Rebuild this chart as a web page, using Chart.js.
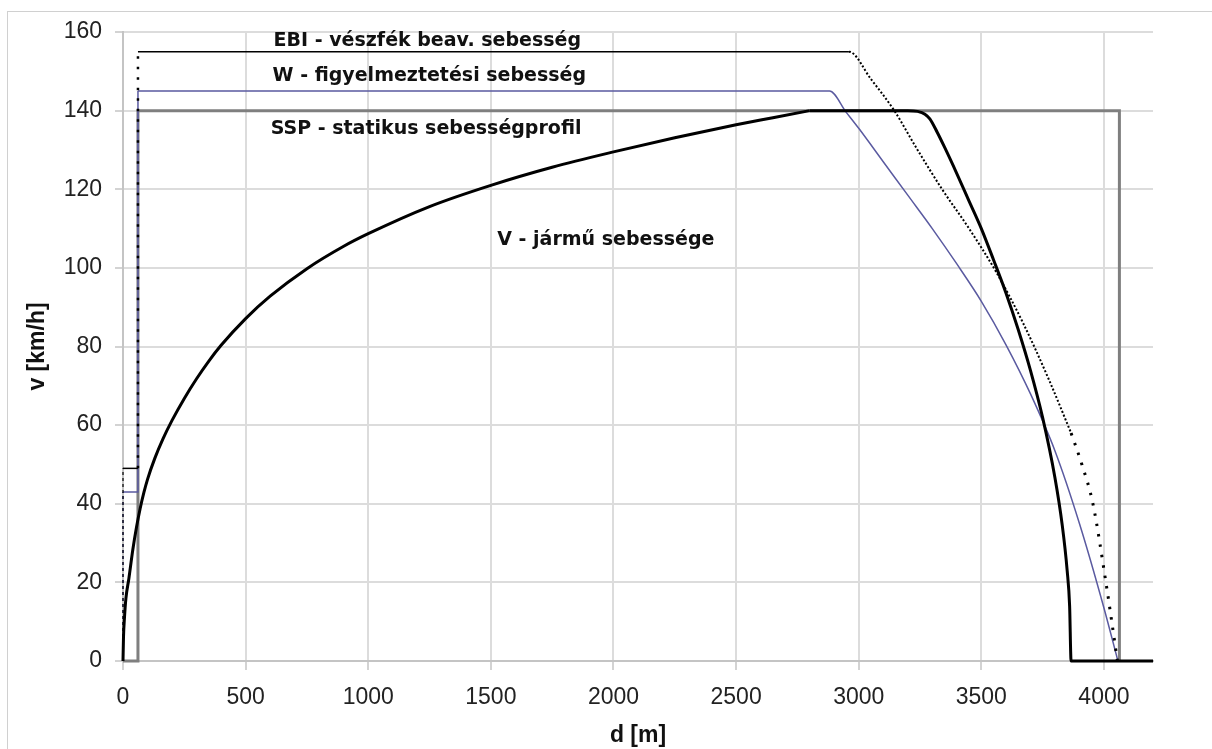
<!DOCTYPE html>
<html>
<head>
<meta charset="utf-8">
<script src="https://cdn.jsdelivr.net/npm/chart.js@4.4.1/dist/chart.umd.min.js"></script>
<style>
html,body{margin:0;padding:0;background:#fff;overflow:hidden;width:1212px;height:749px;}
#frame{position:absolute;left:7px;top:11px;width:1300px;height:800px;border-top:1.5px solid #d0d0d0;border-left:1.5px solid #d0d0d0;}
#c{position:absolute;left:0;top:0;}
</style>
</head>
<body>
<div id="frame"></div>
<canvas id="c" width="1212" height="749"></canvas>
<script>
// ---- tick labels ----
const xTicks = [0, 500, 1000, 1500, 2000, 2500, 3000, 3500, 4000];
const yTicks = [0, 20, 40, 60, 80, 100, 120, 140, 160];

// ---- SSP - statikus sebességprofil ----
const sspD = [0, 61, 61, 4063, 4063];
const sspV = [0, 0, 140, 140, 0];

// ---- W - figyelmeztetési sebesség ----
const wStepD = [0, 0, 61, 61];
const wStepV = [0, 43, 43, 145];
const wD = [61, 2881, 2950, 3000, 3100, 3200, 3300, 3400, 3500, 3600, 3700, 3800, 3900, 4000, 4057];
const wV = [145, 145, 139.5, 135.5, 127, 118.5, 110, 101, 91.5, 80.5, 68, 53.5, 35, 13.5, 0];

// ---- EBI - vészfék beavatkozási sebesség ----
const ebiStepD = [0, 0, 61, 61];
const ebiStepV = [0, 49, 49, 155];
const ebiD = [61, 2960, 3050, 3145, 3240, 3340, 3450, 3560, 3670, 3776, 3866];
const ebiV = [155, 155, 148, 140, 130, 120, 110, 99, 86, 71.5, 58];
const ebiTailD = [3866, 3910, 3955, 4008, 4055];
const ebiTailV = [58, 50, 40, 20, 0];

// ---- V - jármű sebessége (gyorsítás, majd fékezés) ----
const vRiseD = [0, 2, 6, 12, 24, 40, 55, 70, 85, 100, 130, 163, 200, 250, 300, 350, 400, 500, 600, 750, 900, 1000, 1250, 1500, 1750, 2000, 2250, 2500, 2650, 2800];
const vRiseV = [0, 6, 11, 16, 21, 28.3, 34, 38.8, 42.8, 46.2, 51.6, 56.5, 61.2, 66.8, 71.8, 76.3, 80.3, 87.1, 92.8, 99.8, 105.5, 108.7, 115.6, 121, 125.6, 129.5, 133.1, 136.4, 138.2, 140];
const vBrakeD = [2800, 3200, 3240, 3270, 3290, 3320, 3350, 3400, 3450, 3500, 3550, 3600, 3650, 3700, 3750, 3800, 3830, 3850, 3860, 3866, 4200];
const vBrakeV = [140, 140, 139.8, 139.1, 137.9, 134.5, 130.7, 124, 117, 110, 102, 93.7, 84.4, 74, 61.9, 46.7, 34.5, 23, 14, 0, 0];

// ---- annotation texts ----
const notes = [
  {text: 'EBI - vészfék beav. sebesség', d: 614, v: 157.6, w: 312},
  {text: 'W - figyelmeztetési sebesség', d: 610, v: 148.7, w: 315},
  {text: 'SSP - statikus sebességprofil', d: 602, v: 135.2, w: 313},
  {text: 'V - jármű sebessége', d: 1526, v: 107.2, w: 218}
];

const pts = (xs, ys) => xs.map((x, i) => ({x: x, y: ys[i]}));

const notesPlugin = {
  id: 'notes',
  afterDatasetsDraw(chart) {
    const {ctx, scales: {x, y}} = chart;
    ctx.save();
    ctx.font = 'bold 19px "DejaVu Sans", Verdana, sans-serif';
    ctx.fillStyle = '#111';
    ctx.textBaseline = 'middle';
    ctx.textAlign = 'left';
    notes.forEach(n => ctx.fillText(n.text, x.getPixelForValue(n.d), y.getPixelForValue(n.v), n.w));
    ctx.restore();
  }
};

Chart.defaults.font.family = '"Liberation Sans", Arial, sans-serif';
Chart.defaults.color = '#222';

const base = {showLine: true, pointRadius: 0, tension: 0, clip: 6};

new Chart(document.getElementById('c'), {
  type: 'scatter',
  data: {
    datasets: [
      Object.assign({}, base, {
        label: 'V', data: pts(vRiseD, vRiseV),
        borderColor: '#000', borderWidth: 3, cubicInterpolationMode: 'monotone'
      }),
      Object.assign({}, base, {
        label: 'V fékezés', data: pts(vBrakeD, vBrakeV),
        borderColor: '#000', borderWidth: 3, cubicInterpolationMode: 'monotone'
      }),
      Object.assign({}, base, {
        label: 'EBI step', data: pts(ebiStepD, ebiStepV),
        borderColor: '#000', borderWidth: 1.5,
        segment: {
          borderDash: c => (c.p0.parsed.x === c.p1.parsed.x) ? (c.p0.parsed.x === 0 ? [3, 3] : [2.5, 8]) : [],
          borderWidth: c => (c.p0.parsed.x === c.p1.parsed.x) ? (c.p0.parsed.x === 0 ? 1.2 : 2.5) : 1.5
        }
      }),
      Object.assign({}, base, {
        label: 'EBI', data: pts(ebiD, ebiV),
        borderColor: '#000', borderWidth: 1.5, cubicInterpolationMode: 'monotone',
        segment: {
          borderDash: c => (c.p0.parsed.y === c.p1.parsed.y) ? [] : [2, 2],
          borderWidth: c => (c.p0.parsed.y === c.p1.parsed.y) ? 1.5 : 2
        }
      }),
      Object.assign({}, base, {
        label: 'EBI tail', data: pts(ebiTailD, ebiTailV),
        borderColor: '#000', borderWidth: 3, borderDash: [2.5, 8], cubicInterpolationMode: 'monotone'
      }),
      Object.assign({}, base, {
        label: 'W step', data: pts(wStepD, wStepV),
        borderColor: '#5a5aa0', borderWidth: 1.5,
        segment: {
          borderDash: c => (c.p0.parsed.x === 0 && c.p1.parsed.x === 0) ? [3, 3] : []
        }
      }),
      Object.assign({}, base, {
        label: 'W', data: pts(wD, wV),
        borderColor: '#5a5aa0', borderWidth: 1.5, cubicInterpolationMode: 'monotone'
      }),
      Object.assign({}, base, {
        label: 'SSP', data: pts(sspD, sspV),
        borderColor: '#7f7f7f', borderWidth: 3
      })
    ]
  },
  options: {
    responsive: false,
    animation: false,
    devicePixelRatio: 1,
    layout: {padding: {left: 0, top: 32, right: 59, bottom: 0}},
    plugins: {legend: {display: false}, tooltip: {enabled: false}},
    scales: {
      x: {
        type: 'linear', min: 0, max: 4200,
        afterBuildTicks: s => { s.ticks = xTicks.map(v => ({value: v})); },
        afterFit: s => { s.height = 88; },
        ticks: {font: {size: 23}, padding: 14, color: '#222', callback: v => String(v)},
        grid: {color: '#dcdcdc', lineWidth: 2, tickLength: 9, tickColor: '#c4c4c4', tickWidth: 1.5},
        border: {color: '#c4c4c4', width: 2},
        title: {display: true, text: 'd [m]', font: {size: 23, weight: 'bold'}, color: '#111', padding: {top: 0, bottom: 0}}
      },
      y: {
        type: 'linear', min: 0, max: 160,
        afterBuildTicks: s => { s.ticks = yTicks.map(v => ({value: v})); },
        afterFit: s => { s.width = 123; },
        ticks: {font: {size: 23}, padding: 13, color: '#222', callback: v => String(v)},
        grid: {color: '#dcdcdc', lineWidth: 2, tickLength: 8, tickColor: '#c4c4c4', tickWidth: 1.5},
        border: {color: '#c4c4c4', width: 2},
        title: {display: true, text: 'v [km/h]', font: {size: 23, weight: 'bold'}, color: '#111', padding: {top: 24, bottom: 0}}
      }
    }
  },
  plugins: [notesPlugin]
});
</script>
</body>
</html>
